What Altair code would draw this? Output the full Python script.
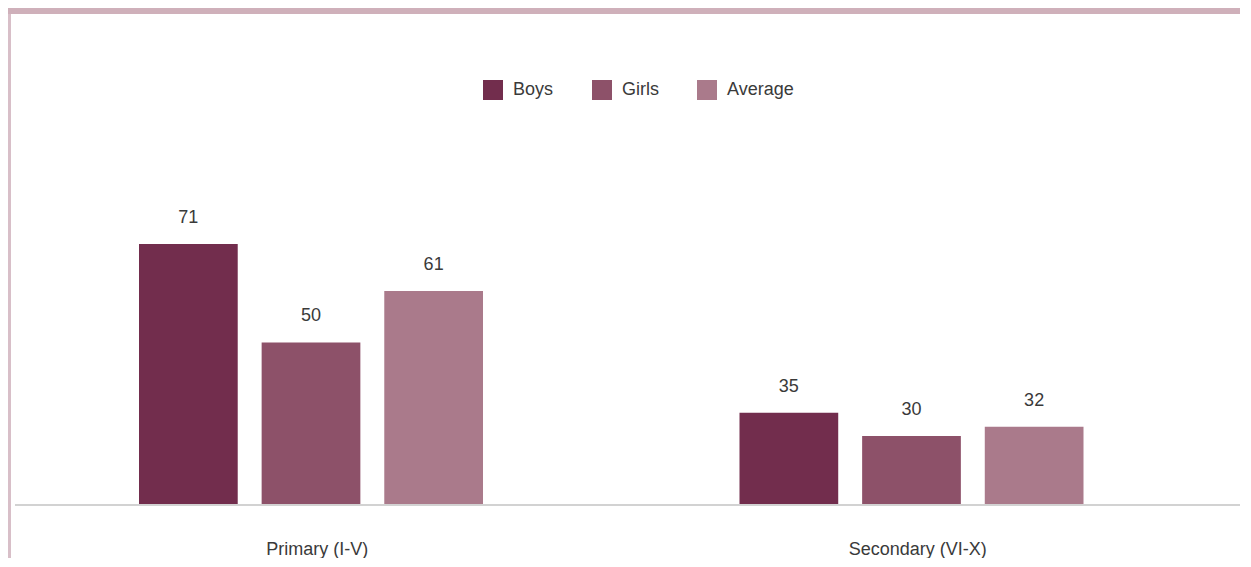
import altair as alt
import pandas as pd

categories = ["Primary (I-V)", "Secondary (VI-X)"]
series = ["Boys", "Girls", "Average"]
boys = [71, 35]
girls = [50, 30]
average = [61, 32]
colors = ["#722D4D", "#8D5169", "#AA7A8B"]

rows = []
for s, vals in zip(series, [boys, girls, average]):
    for c, v in zip(categories, vals):
        rows.append({"category": c, "series": s, "value": v})
df = pd.DataFrame(rows)

W, H = 1201, 384
PAD_L, PAD_T, PAD_R, PAD_B = 9, 112, 22, 54
FONT = "Liberation Sans, Arial, Helvetica, sans-serif"
YMIN, YMAX = 15.5, 97.5

x_enc = alt.X(
    "category:N",
    sort=categories,
    scale=alt.Scale(paddingInner=0, paddingOuter=0),
    axis=alt.Axis(
        title=None, domain=False, ticks=False, tickSize=0, grid=False,
        labelPadding=50, labelBaseline="alphabetic", labelFontSize=18,
        labelColor="#3a3a3a", labelFont=FONT, labelAngle=0,
    ),
)
xo_enc = alt.XOffset(
    "series:N",
    sort=series,
    scale=alt.Scale(domain=series, range=[122, 466], paddingInner=0.195, paddingOuter=0),
)
y_scale = alt.Scale(domain=[YMIN, YMAX], zero=False, clamp=True, nice=False)

base = alt.Chart(df)

bars = base.mark_bar().encode(
    x=x_enc,
    xOffset=xo_enc,
    y=alt.Y("value:Q", scale=y_scale, axis=None),
    y2=alt.datum(YMIN),
    color=alt.Color(
        "series:N",
        sort=series,
        scale=alt.Scale(domain=series, range=colors),
        legend=alt.Legend(
            title=None, orient="none", direction="horizontal",
            legendX=466, legendY=-40, padding=0,
            symbolType="square", symbolSize=400, symbolStrokeWidth=0,
            labelFontSize=18, labelFont=FONT, labelColor="#3a3a3a",
            labelOffset=10, columnPadding=38,
        ),
    ),
)

labels = base.mark_text(
    baseline="alphabetic", dy=-21, fontSize=18, font=FONT, color="#3a3a3a"
).encode(
    x=x_enc,
    xOffset=xo_enc,
    y=alt.Y("value:Q", scale=y_scale, axis=None),
    text=alt.Text("value:Q"),
)

one = pd.DataFrame({"k": [0]})
baseline = alt.Chart(one).mark_rule(color="#D2D2D2", strokeWidth=2).encode(
    x=alt.value(-2), x2=alt.value(W + 22), y=alt.value(H + 1)
)
top_border = alt.Chart(one).mark_rect(color="#CFB0BA").encode(
    x=alt.value(-PAD_L), x2=alt.value(W + PAD_R), y=alt.value(-PAD_T), y2=alt.value(-PAD_T + 6)
)
left_border = alt.Chart(one).mark_rect(color="#D8BFC8").encode(
    x=alt.value(-PAD_L), x2=alt.value(-PAD_L + 3), y=alt.value(-PAD_T + 6), y2=alt.value(H + PAD_B)
)

chart = alt.layer(top_border, left_border, baseline, bars, labels).properties(
    width=W, height=H,
    background="white",
    autosize=alt.AutoSizeParams(type="none"),
    padding={"left": PAD_L, "top": PAD_T, "right": PAD_R, "bottom": PAD_B},
).configure_view(strokeWidth=0, stroke="transparent")

chart.save("out.html", embed_options={"renderer": "svg", "actions": False})
